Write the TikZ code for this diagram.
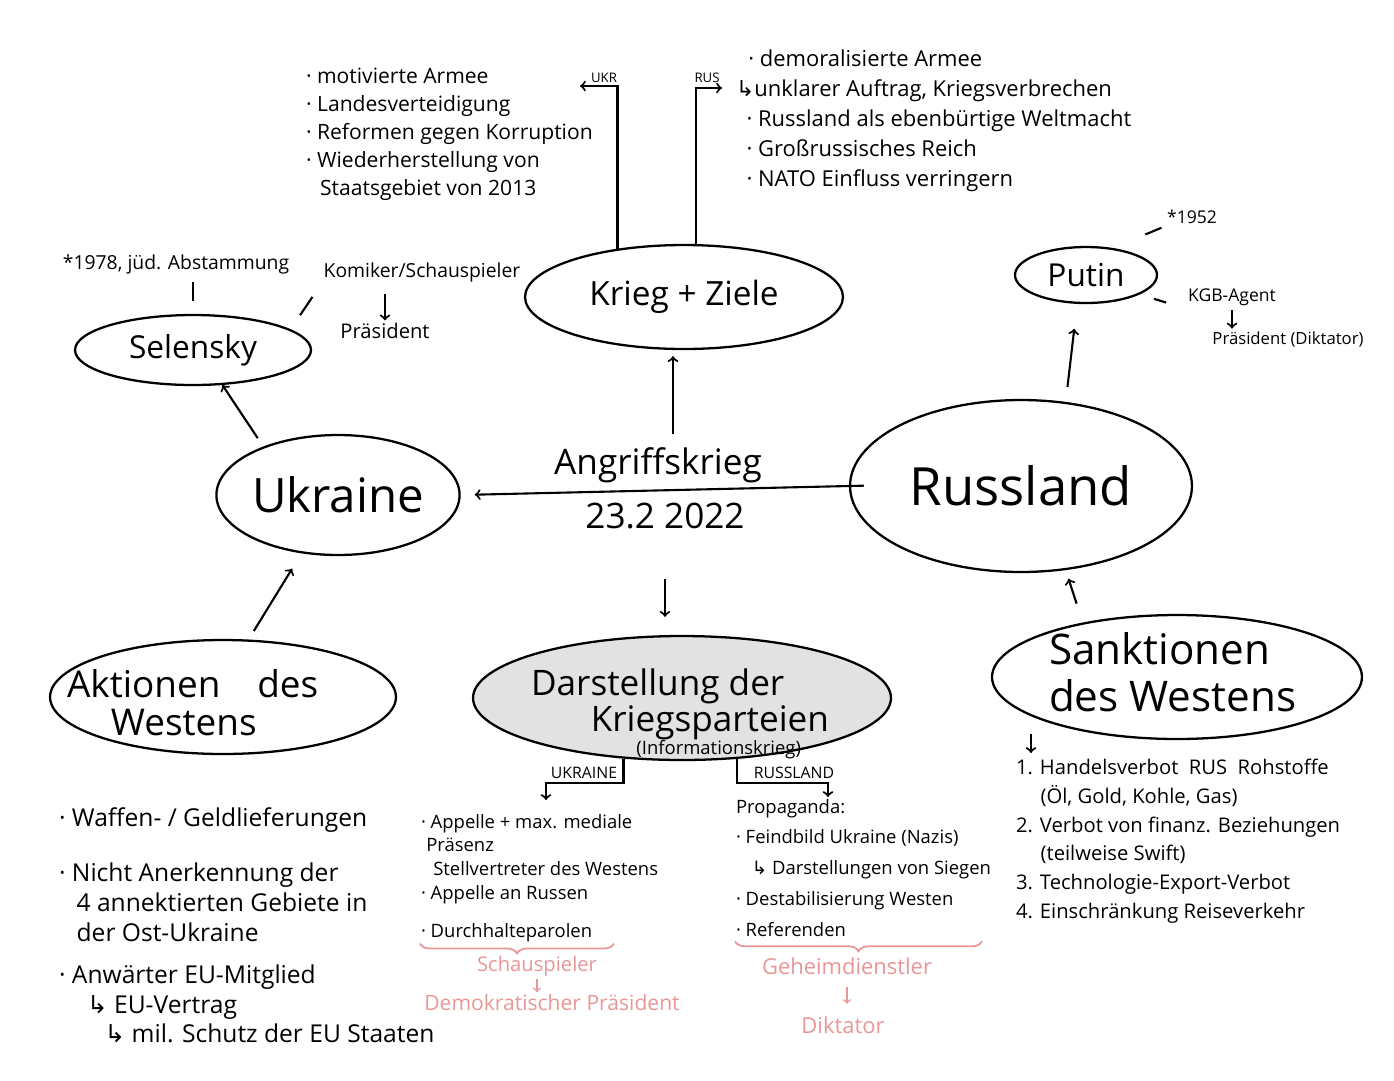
\documentclass[tikz,border=0pt]{standalone}
\usepackage{fontspec}
\setmainfont{Open Sans}
\newfontfamily\symfont{DejaVu Sans}
\usetikzlibrary{shapes.geometric,decorations.pathreplacing}
\definecolor{stiftrosa}{RGB}{232,150,150}
\definecolor{blassgrau}{RGB}{226,226,226}
\newcommand{\pfeilL}{{\symfont ↳}}
\newcommand{\schrift}[2]{\fontsize{#1}{#2}\selectfont}

\tikzset{
  bubble/.style={draw, ellipse, line width=1.3pt, inner sep=0pt},
  liste/.style={anchor=north west, align=left, inner sep=0pt},
  notiz/.style={inner sep=1pt},
  rosa/.style={text=stiftrosa, inner sep=1pt},
}

\begin{document}
\begin{tikzpicture}[x=0.02cm, y=-0.02cm, line width=1.2pt]
    \useasboundingbox (0,0) rectangle (1394,1080);

    % Hauptknoten
    \node[bubble, minimum width=4.72cm, minimum height=2.4cm, font=\schrift{27}{30}] (ukraine) at (338,495) {Ukraine};
    \node[bubble, minimum width=6.84cm, minimum height=3.44cm, font=\schrift{30}{32}] (russland) at (1021,486) {Russland};
    \node[bubble, minimum width=6.36cm, minimum height=2.08cm, font=\schrift{19}{22}] (ziele) at (684,297) {Krieg + Ziele};
    \node[bubble, minimum width=4.72cm, minimum height=1.4cm, font=\schrift{18}{20}] (selensky) at (193,350) {Selensky};
    \node[bubble, minimum width=2.84cm, minimum height=1.12cm, font=\schrift{18}{20}] (putin) at (1086,275) {Putin};
    \node[bubble, minimum width=6.92cm, minimum height=2.28cm] (aktionen) at (223,697) {};
    \node[liste, font=\schrift{21}{22}] (aktionenT) at (66,668) {Aktionen\quad des\\\hspace*{25pt}Westens};
    \node[bubble, fill=blassgrau, minimum width=8.36cm, minimum height=2.48cm] (darstellung) at (682,698) {};
    \node[liste, font=\schrift{20}{18}] (darstellungT) at (530,668) {Darstellung der\\\hspace*{34pt}Kriegsparteien\\[-5pt]\hspace*{60pt}{\schrift{10.5}{12}(Informationskrieg)}};
    \node[bubble, minimum width=7.4cm, minimum height=2.48cm] (sanktionen) at (1177,677) {};
    \node[liste, font=\schrift{24}{27}] (sanktionenT) at (1048,631) {Sanktionen\\des Westens};

    % Angriffskrieg
    \node[notiz, font=\schrift{20}{22}, anchor=base] (angriff) at (658,474) {Angriffskrieg};
    \node[notiz, font=\schrift{20}{22}, anchor=base] (datum) at (665,528) {23.2 2022};
    \draw[->, shorten <=-0.3cm, shorten >=0.28cm] (russland.west) -- (ukraine.east);
    \draw[->, shorten <=0.2cm, shorten >=0.12cm] ([xshift=0.3cm]angriff.north) -- ([xshift=0.3cm]angriff.north |- ziele.south);
    \draw[->, shorten <=0.96cm, shorten >=0.36cm] (datum.south) -- (datum.south |- darstellung.north);

    % Pfeile zwischen den Blasen
    \draw[->, shorten <=0.2cm] (ukraine.147) -- (selensky.-50);
    \draw[->, shorten <=0.2cm, shorten >=0.36cm] (aktionen.66) -- (ukraine.-122);
    \draw[->, shorten <=0.3cm, shorten >=0.5cm] (russland.62) -- (putin.-107);
    \draw[->, shorten <=0.4cm, shorten >=0.18cm] (sanktionen.150) -- (russland.-62);

    % Ziele
    \node[notiz, font=\schrift{7.5}{9}] (ukrLbl) at (604,78) {UKR};
    \node[notiz, font=\schrift{7.5}{9}] (rusLbl) at (707,78) {RUS};
    \coordinate (ukrEnde) at (580,86);
    \coordinate (rusEnde) at (722,88);
    \draw[->] (ziele.144) |- (ukrEnde);
    \draw[->] (ziele.77) |- (rusEnde);
    \node[liste, font=\schrift{12}{16}] (ukrZiele) at (305,67) {· motivierte Armee\\· Landesverteidigung\\· Reformen gegen Korruption\\· Wiederherstellung von\\\hspace*{8pt}Staatsgebiet von 2013};
    \node[liste, font=\schrift{12.5}{17}] (rusZiele) at (735,49) {\hspace*{7pt}· demoralisierte Armee\\\pfeilL unklarer Auftrag, Kriegsverbrechen\\\hspace*{6pt}· Russland als ebenbürtige Weltmacht\\\hspace*{6pt}· Großrussisches Reich\\\hspace*{6pt}· NATO Einfluss verringern};

    % Selensky
    \node[notiz, font=\schrift{11}{13}] (geburtS) at (176,264) {*1978, jüd. Abstammung};
    \node[notiz, font=\schrift{11}{13}] (komiker) at (422,272) {Komiker/Schauspieler};
    \node[notiz, font=\schrift{11.5}{13}] (praesS) at (385,331) {Präsident};
    \draw[shorten <=0.12cm, shorten >=0.26cm] (geburtS.south -| selensky.north) -- (selensky.north);
    \draw[shorten <=0.34cm, shorten >=0.3cm] (selensky.12) -- (komiker.south west);
    \draw[->, shorten <=0.2cm] (komiker.south -| praesS.north) -- (praesS.north);

    % Putin
    \node[notiz, font=\schrift{10}{12}] (geburtP) at (1192,217) {*1952};
    \node[notiz, font=\schrift{10}{12}] (kgb) at (1232,297) {KGB-Agent};
    \node[notiz, font=\schrift{9.5}{12}] (praesP) at (1288,339) {Präsident (Diktator)};
    \draw[shorten <=0.7cm, shorten >=0.06cm] (putin.45) -- (geburtP.south west);
    \draw[shorten <=0.3cm, shorten >=0.4cm] (putin.-20) -- (kgb.south west);
    \draw[->, shorten <=1pt] (kgb.south) -- (kgb.south |- praesP.north);

    % Aktionen des Westens
    \node[liste, font=\schrift{14}{17}] (westHilfe) at (58,807) {· Waffen- / Geldlieferungen\\[14pt]· Nicht Anerkennung der\\\hspace*{10pt}4 annektierten Gebiete in\\\hspace*{10pt}der Ost-Ukraine\\[7pt]· Anwärter EU-Mitglied\\\hspace*{16pt}\pfeilL\ EU-Vertrag\\\hspace*{26pt}\pfeilL\ mil. Schutz der EU Staaten};

    % Informationskrieg
    \node[notiz, font=\schrift{9}{11}] (ukrLbl2) at (584,773) {UKRAINE};
    \node[notiz, font=\schrift{9}{11}] (rusLbl2) at (794,773) {RUSSLAND};
    \coordinate (infoUkrPfeil) at (546,800);
    \coordinate (infoRusPfeil) at (828,797);
    \draw[->] (darstellung.-134) -- ++(0,24) -| (infoUkrPfeil);
    \draw[->] (darstellung.-48) -- ++(0,24) -| (infoRusPfeil);
    \node[liste, font=\schrift{10.5}{13.5}] (infoUkr) at (420,813) {· Appelle + max. mediale\\\hspace*{3pt}Präsenz\\\hspace*{7pt}Stellvertreter des Westens\\· Appelle an Russen\\[8pt]· Durchhalteparolen};
    \node[liste, font=\schrift{10.5}{17.5}] (infoRus) at (735,798) {Propaganda:\\· Feindbild Ukraine (Nazis)\\\hspace*{9pt}\pfeilL\ Darstellungen von Siegen\\· Destabilisierung Westen\\· Referenden};

    % Klammern (rosa)
    \draw[stiftrosa, line width=1pt, decorate, decoration={brace, mirror, amplitude=0.2cm}] ([yshift=-0.02cm]infoUkr.south west) -- ++(194,0);
    \draw[stiftrosa, line width=1pt, decorate, decoration={brace, mirror, amplitude=0.2cm}] ([yshift=-0.08cm]infoRus.south west) -- ++(247,0);
    \node[rosa, font=\schrift{11.5}{13}] (schau) at (537,966) {Schauspieler};
    \node[rosa, font=\schrift{12}{14}] (demokrat) at (552,1003) {Demokratischer Präsident};
    \draw[->, stiftrosa, line width=0.8pt] (schau.south) -- (schau.south |- demokrat.north);
    \node[rosa, font=\schrift{12.5}{14}] (geheim) at (847,966) {Geheimdienstler};
    \node[rosa, font=\schrift{12.5}{14}] (diktator) at (843,1025) {Diktator};
    \draw[->, stiftrosa, line width=0.8pt, shorten <=0.2cm, shorten >=0.2cm] (geheim.south) -- (geheim.south |- diktator.north);

    % Sanktionen
    \node[liste, font=\schrift{11.5}{16.4}] (sanktListe) at (1015,758) {1. Handelsverbot \ RUS \ Rohstoffe\\\hspace*{14pt}(Öl, Gold, Kohle, Gas)\\2. Verbot von finanz. Beziehungen\\\hspace*{14pt}(teilweise Swift)\\3. Technologie-Export-Verbot\\4. Einschränkung Reiseverkehr};
    \draw[->, shorten <=0.36cm, shorten >=0.1cm] (sanktionen.-165) -- (sanktionen.-165 |- sanktListe.north);
\end{tikzpicture}
\end{document}
